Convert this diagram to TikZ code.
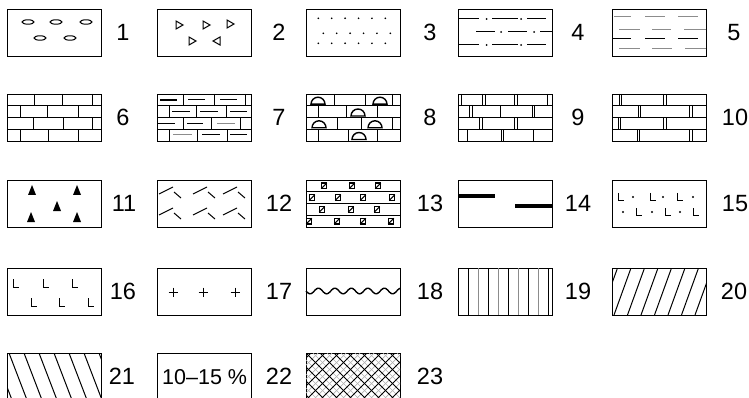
\documentclass[tikz,border=0pt]{standalone}
\usepackage{fontspec}
\setmainfont{Liberation Sans}
\begin{document}
\begin{tikzpicture}[x=1pt,y=-1pt,
  box/.style={draw, line width=1.3pt, minimum width=94pt, minimum height=47pt, inner sep=0pt, anchor=north west},
  lab/.style={font=\fontsize{23.5}{28}\selectfont, anchor=center, inner sep=0pt},
  fine/.style={line width=1pt},
  grayline/.style={line width=1pt, black!45},
  thickjoint/.style={line width=1.1pt}]
\useasboundingbox (0,0) rectangle (749,398);

% ---------- row 1
\node[box] (b1) at (7,9) {};
\node[lab] (l1) at (123,32.5) {1};
\begin{scope}[shift={(b1.north west)}]
  \foreach \x/\y in {21/13,49/13,79/13,33/29,63/29}
    \draw[fine] (\x,\y) ellipse [x radius=6, y radius=2.2];
\end{scope}

\node[box] (b2) at (157,9) {};
\node[lab] (l2) at (279,32.5) {2};
\begin{scope}[shift={(b2.north west)}]
  \foreach \x/\y in {22/16,49/16,73/15,35/32}
    \draw[fine,line join=miter] (\x-3,\y-4) -- (\x+4,\y) -- (\x-3,\y+4) -- cycle;
  \draw[fine,line join=miter] (60+3,32-4) -- (60-4,32) -- (60+3,32+4) -- cycle;
\end{scope}

\node[box] (b3) at (306,9) {};
\node[lab] (l3) at (430,32.5) {3};
\begin{scope}[shift={(b3.north west)}]
  \foreach \k in {0,...,5}{
    \fill (12.3+13.4*\k,9.3) circle (0.95);
    \fill (17.3+13.4*\k,24.3) circle (0.95);
    \fill (12.3+13.4*\k,34.3) circle (0.95);
  }
\end{scope}

\node[box] (b4) at (458,9) {};
\node[lab] (l4) at (578,32.5) {4};
\begin{scope}[shift={(b4.north west)}]
  \foreach \y in {10,36}{
    \draw[fine] (1,\y) -- (21,\y);
    \draw[fine] (34,\y) -- (60,\y);
    \draw[fine] (69,\y) -- (88,\y);
    \fill (28.7,\y) circle (1);
    \fill (63,\y) circle (1);
  }
  \draw[fine] (18,23) -- (37,23);
  \draw[fine] (50,23) -- (69,23);
  \draw[fine] (82,23) -- (94,23);
  \fill (43,23) circle (1);
  \fill (76,23) circle (1);
\end{scope}

\node[box] (b5) at (612,9) {};
\node[lab] (l5) at (734,32.5) {5};
\begin{scope}[shift={(b5.north west)}]
  \draw[grayline] (2,7.7) -- (19,7.7) (33,7.7) -- (53,7.7) (66,7.7) -- (86,7.7);
  \draw[grayline] (7,21) -- (28,21) (40,21) -- (59,21) (72,21) -- (94,21);
  \draw[fine] (0,30) -- (19,30) (33,30) -- (53,30) (66,30) -- (86,30);
  \draw[grayline] (7,39.3) -- (28,39.3) (40,39.3) -- (60,39.3) (73,39.3) -- (94,39.3);
\end{scope}

% ---------- row 2 (bricks)
\node[box] (b6) at (7,94) {};
\node[lab] (l6) at (123,117.5) {6};
\begin{scope}[shift={(b6.north west)}]
  \foreach \y in {11.75,23.5,35.25} \draw[fine] (0,\y) -- (94,\y);
  \foreach \x in {27,55,85} \draw[fine] (\x,0) -- (\x,11.75);
  \foreach \x in {13,40,71} \draw[fine] (\x,11.75) -- (\x,23.5);
  \foreach \x in {26,56,85} \draw[fine] (\x,23.5) -- (\x,35.25);
  \foreach \x in {13,41,71} \draw[fine] (\x,35.25) -- (\x,47);
\end{scope}

\node[box] (b7) at (157,94) {};
\node[lab] (l7) at (279,117.5) {7};
\begin{scope}[shift={(b7.north west)}]
  \foreach \y in {11.75,23.5,35.25} \draw[fine] (0,\y) -- (94,\y);
  \foreach \x in {26,57,88} \draw[fine] (\x,0) -- (\x,11.75);
  \foreach \x in {12,39,69} \draw[fine] (\x,11.75) -- (\x,23.5);
  \foreach \x in {26,54,83} \draw[fine] (\x,23.5) -- (\x,35.25);
  \foreach \x in {12,40,70} \draw[fine] (\x,35.25) -- (\x,47);
  \draw[line width=1.8pt] (3,6) -- (20,6);
  \draw[fine] (31,6) -- (48,6);
  \draw[fine] (63,6) -- (80,6);
  \draw[fine] (15,18) -- (33,18);
  \draw[fine] (43,18) -- (61,18);
  \draw[fine] (73,18) -- (90,18);
  \draw[fine] (1,29.5) -- (18,29.5);
  \draw[fine] (30,29.5) -- (46,29.5);
  \draw[grayline] (60,29.5) -- (78,29.5);
  \draw[grayline] (16,41) -- (35,41);
  \draw[fine] (45,41) -- (63,41);
  \draw[fine] (73,41) -- (90,41);
\end{scope}

\node[box] (b8) at (306,94) {};
\node[lab] (l8) at (430,117.5) {8};
\begin{scope}[shift={(b8.north west)}]
  \foreach \y in {11.75,23.5,35.25} \draw[fine] (0,\y) -- (94,\y);
  \foreach \x in {28,59,86} \draw[fine] (\x,0) -- (\x,11.75);
  \foreach \x in {12,40,71} \draw[fine] (\x,11.75) -- (\x,23.5);
  \foreach \x in {31,55,86} \draw[fine] (\x,23.5) -- (\x,35.25);
  \foreach \x in {12,42,71} \draw[fine] (\x,35.25) -- (\x,47);
  \foreach \x/\y in {12/10.2,74/10.2,52/22,13/33.8,69/33.8,53/45.5}
    \draw[line width=1.4pt] (\x-7,\y) arc[start angle=180,end angle=360,radius=7] -- cycle;
\end{scope}

\node[box] (b9) at (458,94) {};
\node[lab] (l9) at (578,117.5) {9};
\begin{scope}[shift={(b9.north west)}]
  \foreach \y in {11.75,23.5,35.25} \draw[fine] (0,\y) -- (94,\y);
  \foreach \x in {2,26,58} {\draw[fine] (\x-1.2,0) -- (\x-1.2,11.75); \draw[fine] (\x+1.2,0) -- (\x+1.2,11.75);}
  \draw[fine] (89,0) -- (89,11.75);
  \foreach \x in {13,75.5} {\draw[fine] (\x-1.2,11.75) -- (\x-1.2,23.5); \draw[fine] (\x+1.2,11.75) -- (\x+1.2,23.5);}
  \draw[fine] (42,11.75) -- (42,23.5);
  \foreach \x in {23,58} {\draw[fine] (\x-1.2,23.5) -- (\x-1.2,35.25); \draw[fine] (\x+1.2,23.5) -- (\x+1.2,35.25);}
  \foreach \x in {9,75} \draw[fine] (\x,35.25) -- (\x,47);
  \foreach \x in {44.5} {\draw[fine] (\x-1.2,35.25) -- (\x-1.2,47); \draw[fine] (\x+1.2,35.25) -- (\x+1.2,47);}
\end{scope}

\node[box] (b10) at (612,94) {};
\node[lab] (l10) at (735,117.5) {10};
\begin{scope}[shift={(b10.north west)}]
  \foreach \y in {11.75,23.5,35.25} \draw[fine] (0,\y) -- (94,\y);
  \foreach \x in {8.3,53} {\draw[fine] (\x-1.2,0) -- (\x-1.2,11.75); \draw[fine] (\x+1.2,0) -- (\x+1.2,11.75);}
  \foreach \x in {27.5,79} {\draw[fine] (\x-1.2,11.75) -- (\x-1.2,23.5); \draw[fine] (\x+1.2,11.75) -- (\x+1.2,23.5);}
  \foreach \x in {7.5,53} {\draw[fine] (\x-1.2,23.5) -- (\x-1.2,35.25); \draw[fine] (\x+1.2,23.5) -- (\x+1.2,35.25);}
  \foreach \x in {26.3,79} {\draw[fine] (\x-1.2,35.25) -- (\x-1.2,47); \draw[fine] (\x+1.2,35.25) -- (\x+1.2,47);}
\end{scope}

% ---------- row 3
\node[box] (b11) at (7,180) {};
\node[lab] (l11) at (124,203.5) {11};
\begin{scope}[shift={(b11.north west)}]
  \foreach \x/\y in {25/10,70/10,50/26,24/37,70/37}
    \fill (\x-4,\y+5) -- (\x,\y-5) -- (\x+4,\y+5) -- cycle;
\end{scope}

\node[box] (b12) at (157,180) {};
\node[lab] (l12) at (279,203.5) {12};
\begin{scope}[shift={(b12.north west)}]
  \foreach \x/\y in {2/14,36/14,66/14,2/35,36/35,66/35}{
    \draw[fine] (\x,\y) -- (\x+14,\y-7);
    \draw[fine] (\x+15,\y-2) -- (\x+22,\y+4);
  }
\end{scope}

\node[box] (b13) at (306,180) {};
\node[lab] (l13) at (430,203.5) {13};
\begin{scope}[shift={(b13.north west)}]
  \foreach \y in {11.75,23.5,35.25} \draw[fine] (0,\y) -- (94,\y);
  \foreach \x/\y in {18/5.9,46/5.9,72/5.9,6/17.6,32/17.6,57/17.6,86/17.6,16/29.4,45/29.4,71/29.4,3/41.1,31/41.1,57/41.1,85/41.1}{
    \draw[line width=1.2pt] (\x-2.8,\y-2.8) rectangle (\x+2.8,\y+2.8);
    \draw[fine] (\x-2.8,\y+2.8) -- (\x+2.8,\y-2.8);
  }
\end{scope}

\node[box] (b14) at (458,180) {};
\node[lab] (l14) at (578,203.5) {14};
\begin{scope}[shift={(b14.north west)}]
  \draw[line width=4pt] (0,16) -- (37,16);
  \draw[line width=4pt] (57,26) -- (94,26);
\end{scope}

\node[box] (b15) at (612,180) {};
\node[lab] (l15) at (735,203.5) {15};
\begin{scope}[shift={(b15.north west)}]
  \foreach \x in {6,38,65} \draw[fine] (\x,13) -- (\x,20.5) -- (\x+6,20.5);
  \foreach \x in {21,51,81} \fill (\x,17) circle (1.1);
  \foreach \x in {24,53,81} \draw[fine] (\x,28) -- (\x,35.5) -- (\x+6,35.5);
  \foreach \x in {11,40,68} \fill (\x,32) circle (1.1);
\end{scope}

% ---------- row 4
\node[box] (b16) at (7,268) {};
\node[lab] (l16) at (123,291.5) {16};
\begin{scope}[shift={(b16.north west)}]
  \foreach \x in {6,36,65} \draw[fine] (\x,11) -- (\x,19) -- (\x+6,19);
  \foreach \x in {24,52,81} \draw[fine] (\x,30) -- (\x,38) -- (\x+6,38);
\end{scope}

\node[box] (b17) at (157,268) {};
\node[lab] (l17) at (279,291.5) {17};
\begin{scope}[shift={(b17.north west)}]
  \foreach \x in {16,46,78} {\draw[fine] (\x-4.5,24) -- (\x+4.5,24); \draw[fine] (\x,19.5) -- (\x,28.5);}
\end{scope}

\node[box] (b18) at (306,268) {};
\node[lab] (l18) at (430,291.5) {18};
\begin{scope}[shift={(b18.north west)}]
  \draw[line width=1.4pt, domain=0:94, samples=120, smooth] plot (\x,{23+2.8*sin(\x/16.5*360)});
\end{scope}

\node[box] (b19) at (458,268) {};
\node[lab] (l19) at (578,291.5) {19};
\begin{scope}[shift={(b19.north west)}]
  \foreach \x in {10,30,50,70,90} \draw[fine] (\x,0) -- (\x,47);
  \foreach \x in {20,40,60,80} \draw[grayline] (\x,0) -- (\x,47);
\end{scope}

\node[box] (b20) at (612,268) {};
\node[lab] (l20) at (734,291.5) {20};
\begin{scope}[shift={(b20.north west)}]
  \clip (0,0) rectangle (94,47);
  \foreach \k in {-2,...,8} \draw[fine] (\k*13.5+2,47) -- (\k*13.5+19,0);
\end{scope}

% ---------- row 5
\node[box] (b21) at (7,353) {};
\node[lab] (l21) at (122,376.5) {21};
\begin{scope}[shift={(b21.north west)}]
  \clip (0,0) rectangle (94,47);
  \foreach \k in {-2,...,8} \draw[fine] (\k*15+2,0) -- (\k*15+20,47);
\end{scope}

\node[box, font=\fontsize{21.5}{26}\selectfont] (b22) at (157,353) {10--15 \%};
\node[lab] (l22) at (279,376.5) {22};

\node[box] (b23) at (306,353) {};
\node[lab] (l23) at (430,376.5) {23};
\begin{scope}[shift={(b23.north west)}]
  \clip (0,0) rectangle (94,47);
  \foreach \k in {-5,...,9} {
    \draw[black!30,line width=0.7pt] (\k*14+7,0) -- (\k*14+7+47,47);
    \draw[black!30,line width=0.7pt] (\k*14+7,47) -- (\k*14+7+47,0);
  }
  \foreach \k in {-5,...,9} {
    \draw[fine] (\k*14,0) -- (\k*14+47,47);
    \draw[fine] (\k*14,47) -- (\k*14+47,0);
  }
\end{scope}
\end{tikzpicture}
\end{document}
